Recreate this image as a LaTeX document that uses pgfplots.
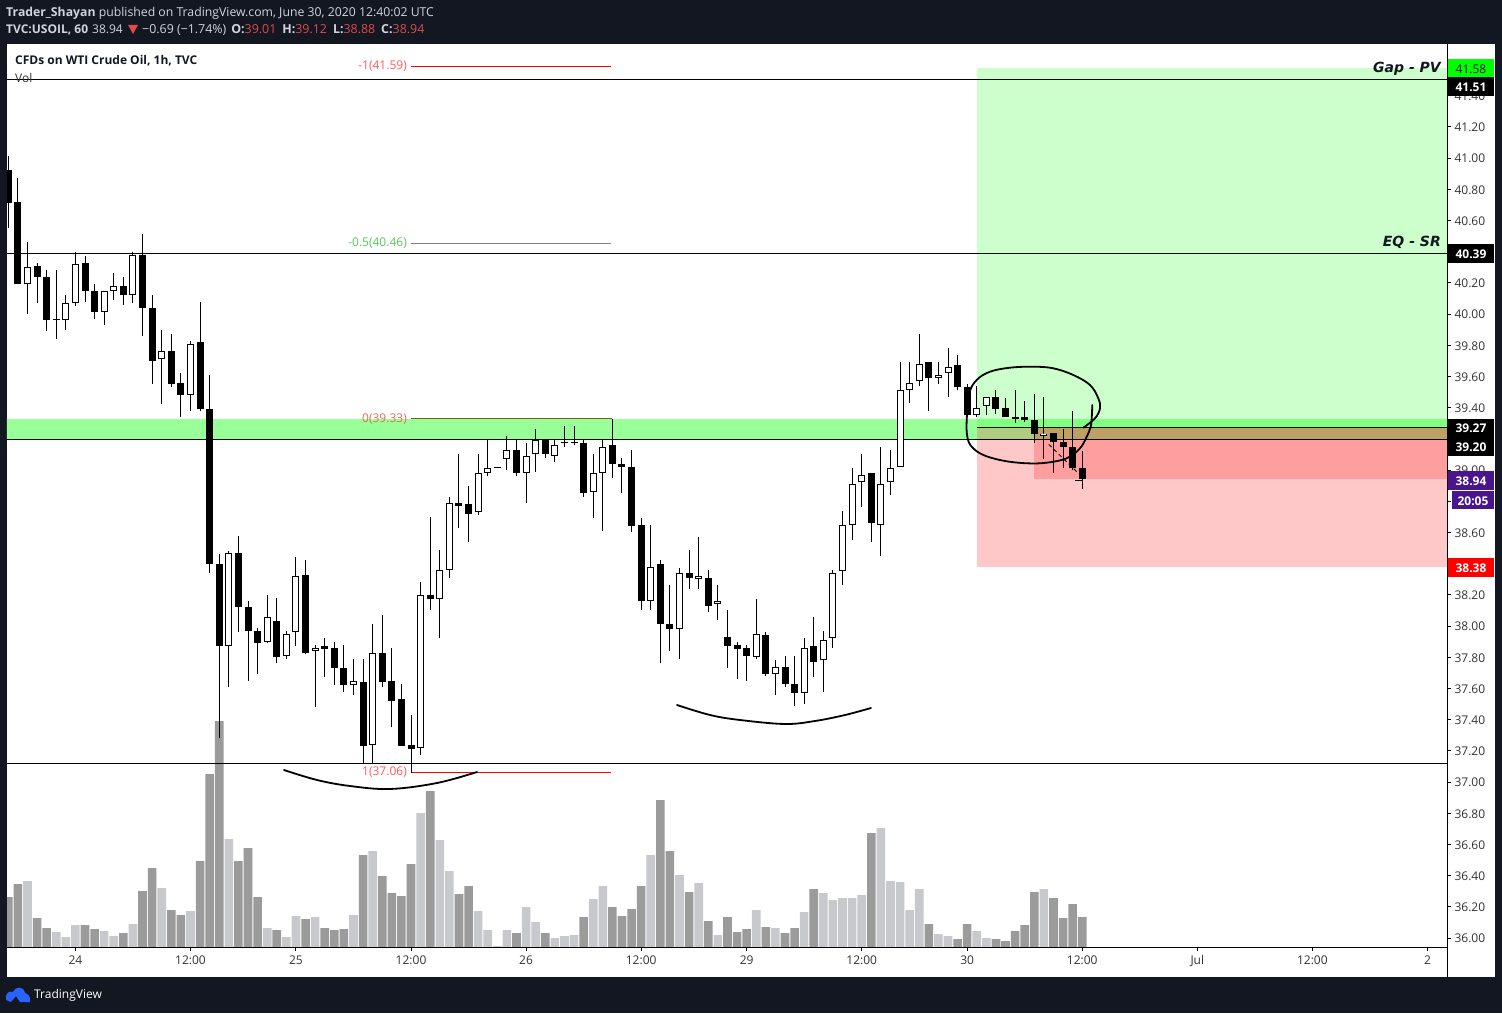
\documentclass[border=0pt]{standalone}
\usepackage{pgfplots}
\pgfplotsset{compat=1.18}
\usepackage{pgfplotstable}
\usepackage{fontspec}
\setmainfont{Open Sans}
\newfontfamily\dejavu{DejaVu Sans}
\definecolor{tvbg}{HTML}{131722}
\definecolor{tvtxt}{HTML}{D1D4DC}
\definecolor{tvred}{HTML}{E04A4A}
\definecolor{voldark}{HTML}{9B9B9B}
\definecolor{vollight}{HTML}{C8C9CD}
\definecolor{fibred}{HTML}{FF5A5A}
\definecolor{axtxt}{HTML}{333333}
\pgfplotstableread{
i o h l c v u
0 40.92 41.01 40.55 40.71 50 0
1 40.72 40.87 40.19 40.19 63 0
2 40.19 40.46 40.00 40.30 66 1
3 40.31 40.33 40.07 40.24 29 0
4 40.24 40.28 39.89 39.96 19 0
5 39.97 40.28 39.84 39.96 15 1
6 39.96 40.12 39.90 40.07 10 1
7 40.07 40.40 40.05 40.32 22 1
8 40.33 40.37 40.08 40.15 22 0
9 40.15 40.19 39.97 40.01 18 0
10 40.01 40.15 39.93 40.15 16 1
11 40.15 40.26 40.09 40.18 11 1
12 40.18 40.24 40.06 40.12 14 0
13 40.12 40.40 40.07 40.38 23 1
14 40.38 40.51 39.86 40.04 56 0
15 40.04 40.12 39.55 39.70 79 0
16 39.71 39.90 39.42 39.76 59 1
17 39.76 39.87 39.53 39.55 37 0
18 39.56 39.62 39.34 39.48 32 0
19 39.48 39.83 39.38 39.81 36 1
20 39.82 40.08 39.38 39.39 86 0
21 39.39 39.61 38.34 38.40 173 0
22 38.40 38.46 37.28 37.87 226 0
23 37.87 38.48 37.61 38.47 108 1
24 38.47 38.58 37.96 38.12 86 0
25 38.12 38.16 37.65 37.97 99 0
26 37.97 37.99 37.69 37.89 50 0
27 37.90 38.20 37.89 38.06 19 1
28 38.03 38.18 37.76 37.80 17 0
29 37.81 37.97 37.79 37.95 10 1
30 37.96 38.44 37.87 38.32 31 1
31 38.33 38.42 37.82 37.83 28 0
32 37.84 37.88 37.48 37.86 30 1
33 37.87 37.92 37.67 37.85 19 0
34 37.86 37.90 37.62 37.73 17 0
35 37.73 37.88 37.58 37.62 18 0
36 37.62 37.79 37.56 37.65 32 1
37 37.64 37.79 37.12 37.23 92 0
38 37.24 38.01 37.12 37.83 96 1
39 37.83 38.07 37.61 37.64 71 0
40 37.65 37.86 37.35 37.52 54 0
41 37.53 37.63 37.23 37.23 51 0
42 37.24 37.43 37.06 37.21 83 0
43 37.22 38.28 37.17 38.20 134 1
44 38.20 38.70 38.10 38.17 156 0
45 38.17 38.49 37.92 38.36 107 1
46 38.36 38.83 38.31 38.79 76 1
47 38.79 39.10 38.63 38.77 53 0
48 38.78 38.90 38.54 38.72 61 0
49 38.73 39.10 38.71 38.98 36 1
50 38.98 39.20 38.96 39.01 17 1
51 39.01 39.01 39.01 39.01 1 1
52 39.07 39.22 39.00 39.13 17 1
53 39.13 39.20 38.96 38.98 14 0
54 38.98 39.17 38.79 39.09 40 1
55 39.10 39.26 38.99 39.19 25 1
56 39.20 39.20 39.08 39.10 14 0
57 39.09 39.19 39.05 39.16 9 1
58 39.17 39.28 39.15 39.17 11 1
59 39.17 39.28 39.16 39.17 12 1
60 39.17 39.19 38.83 38.85 30 0
61 38.86 39.10 38.69 38.98 48 1
62 38.98 39.19 38.61 39.15 61 1
63 39.16 39.33 38.95 39.04 40 0
64 39.04 39.08 38.85 39.02 31 0
65 39.02 39.13 38.60 38.64 38 0
66 38.65 38.69 38.10 38.16 61 0
67 38.16 38.65 38.10 38.38 92 1
68 38.40 38.42 37.76 38.01 147 0
69 38.01 38.26 37.84 37.98 96 0
70 37.98 38.37 37.79 38.34 72 1
71 38.34 38.49 38.24 38.31 55 0
72 38.30 38.57 38.24 38.32 64 1
73 38.31 38.36 38.09 38.13 26 0
74 38.14 38.26 38.04 38.16 12 1
75 37.93 38.10 37.73 37.87 30 0
76 37.88 37.90 37.66 37.85 15 0
77 37.86 37.88 37.65 37.81 18 0
78 37.80 38.17 37.79 37.95 37 1
79 37.94 37.96 37.68 37.69 20 0
80 37.69 37.78 37.56 37.74 19 1
81 37.74 37.81 37.61 37.63 14 0
82 37.63 37.81 37.49 37.57 19 0
83 37.57 37.92 37.50 37.86 35 1
84 37.87 38.06 37.67 37.77 58 0
85 37.78 37.97 37.58 37.91 54 1
86 37.92 38.36 37.86 38.34 47 1
87 38.35 38.74 38.26 38.65 49 1
88 38.65 39.01 38.55 38.91 49 1
89 38.92 39.10 38.76 38.97 52 1
90 38.98 38.98 38.54 38.66 114 0
91 38.65 39.15 38.45 38.91 119 1
92 38.92 39.13 38.84 39.01 66 1
93 39.02 39.69 39.02 39.51 65 1
94 39.51 39.69 39.43 39.56 37 1
95 39.57 39.87 39.54 39.68 58 1
96 39.69 39.69 39.38 39.59 23 0
97 39.59 39.69 39.55 39.61 13 1
98 39.62 39.78 39.47 39.66 11 1
99 39.67 39.74 39.51 39.53 8 0
100 39.53 39.55 39.35 39.35 23 0
101 39.35 39.54 39.34 39.40 16 1
102 39.41 39.47 39.35 39.47 9 1
103 39.47 39.51 39.36 39.39 8 0
104 39.40 39.46 39.34 39.34 6 0
105 39.34 39.51 39.30 39.33 16 0
106 39.34 39.44 39.31 39.32 22 0
107 39.32 39.49 39.17 39.23 55 0
108 39.22 39.47 39.07 39.23 58 1
109 39.24 39.24 38.98 39.18 49 0
110 39.18 39.26 39.01 39.15 29 0
111 39.15 39.38 39.00 39.01 43 0
112 39.01 39.12 38.88 38.94 30 0
}\candles
\begin{document}
\begin{tikzpicture}
\useasboundingbox (0,0) rectangle (1502pt,1013pt);
\fill[tvbg] (0,0) rectangle (1502pt,1013pt);
\begin{scope}[x=1pt,y=-1pt,shift={(0pt,1013pt)}]
\fill[white] (7,44) rectangle (1495,977);
\end{scope}
% volume pane
\begin{axis}[at={(7pt,66pt)},anchor=south west,scale only axis,width=1440pt,height=903pt,
  hide axis,xmin=-0.136,xmax=150.04,ymin=0,ymax=903]
\addplot[ybar,bar width=8.6pt,bar shift=0pt,fill=voldark,draw=none,forget plot]
  table[x=i,y expr={\thisrow{u}==0 ? \thisrow{v} : nan}]{\candles};
\addplot[ybar,bar width=8.6pt,bar shift=0pt,fill=vollight,draw=none,forget plot]
  table[x=i,y expr={\thisrow{u}==1 ? \thisrow{v} : nan}]{\candles};
\end{axis}
% price pane
\begin{axis}[at={(7pt,66pt)},anchor=south west,scale only axis,width=1440pt,height=903pt,
  xmin=-0.136,xmax=150.04,ymin=35.9423,ymax=41.7308,
  axis x line*=bottom,axis y line*=right,axis line style={-,black,line width=1pt},
  tick style={black,line width=1pt},tick align=outside,major tick length=4pt,
  xtick={7,19,30,42,54,66,77,89,100,112,124,136,148},
  xticklabels={24,12:00,25,12:00,26,12:00,29,12:00,30,12:00,Jul,12:00,2},
  ytick={36,36.2,36.4,36.6,36.8,37,37.2,37.4,37.6,37.8,38,38.2,38.6,39,39.4,39.6,39.8,40,40.2,40.6,40.8,41,41.2,41.4},
  extra y ticks={38.38,38.8,39.2,39.27,40.39,41.51,41.58},
  extra y tick labels={},
  yticklabel style={/pgf/number format/fixed,/pgf/number format/fixed zerofill,/pgf/number format/precision=2,/pgf/number format/assume math mode=true,yshift=-0.7pt},
  tick label style={font=\fontsize{12}{14}\selectfont,text=axtxt},
  xticklabel style={yshift=-1pt},
]
% zones
\fill[color={rgb,255:red,153;green,255;blue,153}] (axis cs:-1,39.33) rectangle (axis cs:101,39.20);
\fill[color={rgb,255:red,204;green,255;blue,204}] (axis cs:101,41.58) rectangle (axis cs:151,39.33);
\fill[color={rgb,255:red,128;green,255;blue,128}] (axis cs:101,39.33) rectangle (axis cs:151,39.27);
\fill[color={rgb,255:red,255;green,200;blue,200}] (axis cs:101,39.20) rectangle (axis cs:151,38.38);
\fill[color={rgb,255:red,176;green,204;blue,128}] (axis cs:101,39.27) rectangle (axis cs:107,39.20);
\fill[color={rgb,255:red,189;green,160;blue,102}] (axis cs:107,39.27) rectangle (axis cs:151,39.20);
\fill[color={rgb,255:red,255;green,158;blue,158}] (axis cs:107,39.20) rectangle (axis cs:151,38.94);
% levels
\addplot[black,line width=1pt,forget plot] coordinates {(-1,41.505) (151,41.505)};
\addplot[black,line width=1pt,forget plot] coordinates {(-1,40.39) (151,40.39)};
\addplot[black,line width=1pt,forget plot] coordinates {(-1,39.195) (151,39.195)};
\addplot[black,line width=1pt,forget plot] coordinates {(-1,37.12) (151,37.12)};
\addplot[black,line width=1pt,forget plot] coordinates {(101,39.27) (151,39.27)};
% fibonacci levels
\addplot[color={rgb,255:red,255;green,0;blue,0},line width=1.2pt,forget plot] coordinates {(42,41.585) (62.9,41.585)};
\addplot[gray,line width=1pt,forget plot] coordinates {(42,40.455) (62.9,40.455)};
\addplot[color={rgb,255:red,130;green,90;blue,30},line width=1pt,forget plot] coordinates {(42,39.33) (63,39.33)};
\addplot[red,line width=1.2pt,forget plot] coordinates {(42,37.06) (62.9,37.06)};
% wicks
\addplot[draw=none,forget plot,error bars/.cd,y dir=plus,y explicit,error mark=none,
  error bar style={draw=black,line width=1pt}]
  table[x=i,y=l,y error plus expr={\thisrow{h}-\thisrow{l}}]{\candles};
% bodies
\addplot[draw=none,forget plot,error bars/.cd,y dir=plus,y explicit,error mark=none,
  error bar style={draw=black,line width=7pt}]
  table[x=i,y expr={min(\thisrow{o},\thisrow{c})},y error plus expr={max(abs(\thisrow{o}-\thisrow{c}),0.007)}]{\candles};
% interior of rising candles
\addplot[draw=none,forget plot,error bars/.cd,y dir=plus,y explicit,error mark=none,
  error bar style={draw=white,line width=5pt}]
  table[x=i,y expr={\thisrow{c}>\thisrow{o} ? \thisrow{o}+0.0064 : nan},y error plus expr={max(\thisrow{c}-\thisrow{o}-0.0128,0.002)}]{\candles};
\end{axis}
\begin{scope}[x=1pt,y=-1pt,shift={(0pt,1013pt)}]
\draw[black,line width=1pt] (1447.5,44) -- (1447.5,977);
% hand-drawn curves
\draw[black,line width=1.8pt,line cap=round] plot[smooth,tension=0.6] coordinates {(284,770) (317,780) (350,786) (390,789) (437,783) (477,772)};
\draw[black,line width=1.8pt,line cap=round] plot[smooth,tension=0.6] coordinates {(677,705) (710,715) (740,720) (785,724) (815,721) (845,715) (871,708)};
\draw[black,line width=1.8pt,line cap=round] plot[smooth,tension=0.6] coordinates {(1092.3,405) (1091.7,418.3) (1090.7,426.7) (1086.7,436.7) (1080,448.3) (1066.7,458.3) (1046.7,462.7) (1026.7,463.3) (1003.3,460.7) (983.3,455) (971.7,446.7) (967.3,436.7) (966.7,420) (969.3,393.3) (976.7,380) (990,371.7) (1010,367.7) (1033.3,366.7) (1053.3,368.3) (1073.3,375) (1090,385) (1098.3,398.3) (1100,408.3) (1095,418.3) (1083.3,427.7)};
\draw[black,line width=0.8pt,dash pattern=on 4pt off 3pt] (1048.7,444.3) -- (1076.7,471.7);
\draw[black,line width=0.8pt] (1075,480) -- (1082,480);
% fib labels
\begin{scope}[every node/.style={inner sep=0pt,font=\fontsize{12}{14}\selectfont}]
\node[anchor=east,text=fibred] at (407,66.5) {-1(41.59)};
\node[anchor=east,text={rgb,255:red,90;green,200;blue,90}] at (407,243) {-0.5(40.46)};
\node[anchor=east,text={rgb,255:red,226;green,110;blue,80}] at (407,419.5) {0(39.33)};
\node[anchor=east,text=fibred] at (407,772.5) {1(37.06)};
% title
\node[anchor=west,text=tvbg] at (15,61) {\textbf{CFDs on WTI Crude Oil, 1h, TVC}};
\node[anchor=west,text=axtxt] at (15,78) {Vol};
% header
\node[anchor=west,text=tvtxt] at (6,13.5) {\fontsize{12.25}{14}\selectfont\textbf{Trader\_Shayan} published on TradingView.com, June 30, 2020 12:40:02 UTC};
\node[anchor=west,text=tvtxt] at (6,30) {\textbf{TVC:USOIL, 60}\hspace{4pt}38.94};
\node[anchor=west,text=tvtxt] at (142,30) {\fontsize{12.4}{14}\selectfont −0.69 (−1.74\%)\hspace{5pt}\textbf{O:}\textcolor{tvred}{39.01}\hspace{6pt}\textbf{H:}\textcolor{tvred}{39.12}\hspace{6pt}\textbf{L:}\textcolor{tvred}{38.88}\hspace{6pt}\textbf{C:}\textcolor{tvred}{38.94}};
\node[anchor=west,text=white] at (34,995) {TradingView};
% gap labels
\node[anchor=east,text=tvbg] at (1441,69) {\dejavu\fontsize{14}{16}\selectfont\bfseries\itshape Gap - PV};
\node[anchor=east,text=tvbg] at (1441,242) {\dejavu\fontsize{14}{16}\selectfont\bfseries\itshape EQ - SR};
\end{scope}
\fill[tvred] (128,25) -- (138,25) -- (133,34) -- cycle;
% logo
\fill[color={rgb,255:red,41;green,98;blue,255}] (6,1000) .. controls (5,994) and (9,990) .. (13,992) .. controls (15,986) and (24,986) .. (25,993) .. controls (29,994) and (31,998) .. (30,1002) -- (20,1002) -- (16,996) -- (11,1002) -- cycle;
% price flags
\begin{scope}[every node/.style={inner sep=0pt,font=\fontsize{12}{14}\selectfont}]
\fill[color={rgb,255:red,0;green,255;blue,0}] (1448,59) rectangle (1494,77.3);
\node[text=tvbg] at (1471,68.8) {41.58};
\fill[black] (1448,77.3) rectangle (1494,96);
\node[text=white] at (1471,87) {\textbf{41.51}};
\fill[black] (1448,244) rectangle (1494,262.7);
\node[text=white] at (1471,253.8) {\textbf{40.39}};
\fill[black] (1448,419) rectangle (1494,437);
\node[text=white] at (1471,428.6) {\textbf{39.27}};
\fill[black] (1448,437) rectangle (1494,455.7);
\node[text=white] at (1471,446.8) {\textbf{39.20}};
\fill[color={rgb,255:red,74;green,20;blue,140}] (1448,471) rectangle (1494,490);
\node[text=white] at (1471,480.8) {\textbf{38.94}};
\fill[color={rgb,255:red,74;green,20;blue,140}] (1452,491) rectangle (1494,509.3);
\node[text=white] at (1473,500.8) {\textbf{20:05}};
\fill[red] (1448,558) rectangle (1494,576.7);
\node[text=white] at (1471,567.8) {\textbf{38.38}};
\end{scope}
\end{scope}
\end{tikzpicture}
\end{document}
